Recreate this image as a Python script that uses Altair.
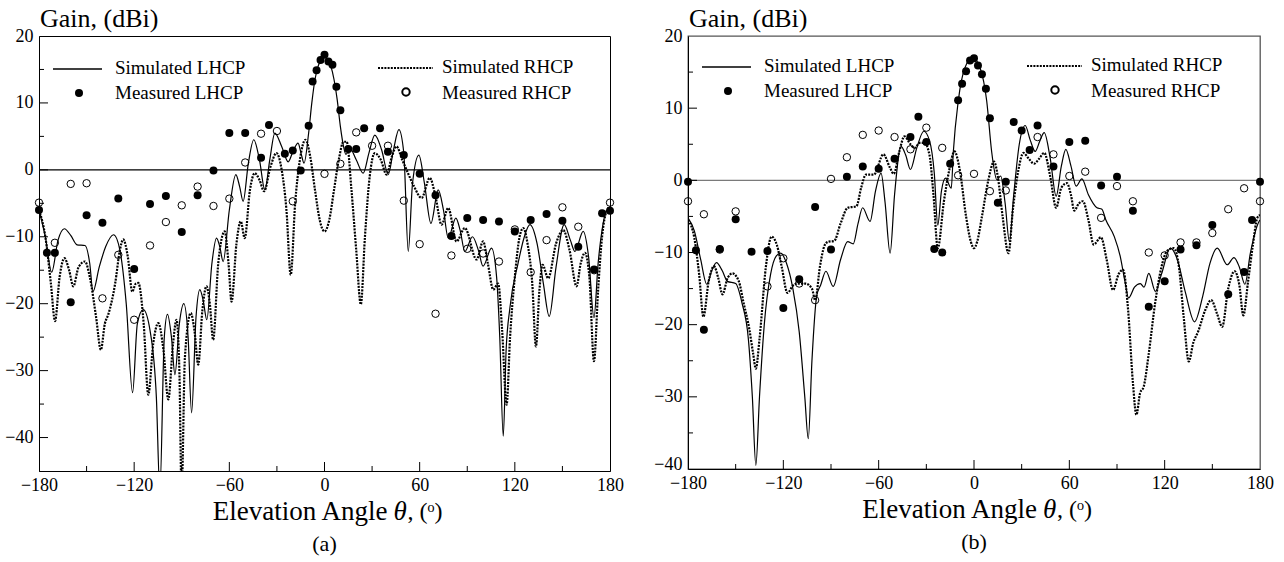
import altair as alt
import pandas as pd

FONT = "Liberation Serif"

# ---------------- Panel (a) ----------------
A_SIM_LHCP = [
    (-180, -6), (-176, -10), (-172, -15.3), (-168, -10.5), (-164, -8.8), (-160, -9.8), (-156, -11.2),
    (-151, -11.3), (-148, -14), (-146, -18.2), (-142, -14.5), (-138, -11.5), (-133, -9.7), (-129, -12),
    (-125, -20), (-121, -33.3), (-118, -23), (-114.3, -20.9), (-110, -24), (-106, -34), (-103.8, -48),
    (-101, -25), (-99, -21.6), (-96.5, -25), (-94.3, -30.6), (-91.5, -23), (-88.7, -20), (-86, -25),
    (-83.8, -36.3), (-81, -22), (-78.6, -17.9), (-76.5, -19.5), (-74.2, -22.4), (-71, -14), (-68.1, -10.2),
    (-66, -11.5), (-63.9, -13.7), (-60, -6), (-55.9, -0.7), (-53.5, -2.5), (-51.3, -4.7), (-48, 1),
    (-44.6, 4.5), (-41, 1.5), (-37.6, -3), (-34.5, 1.5), (-31.3, 5.5), (-27, 3.5), (-22.9, 1.2),
    (-19.8, 2.8), (-16.7, 4), (-14.5, 2.2), (-12.9, 1), (-10, 5.5), (-8, 10), (-6, 13.5), (-4, 15.5),
    (-2, 16.5), (0, 16.8), (2, 16.5), (4, 15.5), (6, 13.5), (8, 10.5), (10, 6.5), (12, 3.5), (13.5, 2.3),
    (16, 3.2), (20, 1.5), (24.4, -0.5), (28, 2.5), (31.7, 5.2), (36, 3), (40.2, -0.7), (43.5, 3),
    (46.9, 6), (50, 2.5), (52.8, -12.2), (55.5, -2), (59.5, 2.2), (63, -2), (67.1, -8), (71.7, -3),
    (75, -6), (78, -10.2), (82.8, -7.2), (85.5, -9), (88.5, -12.2), (93.3, -10), (97, -12), (100, -14.4),
    (105.3, -11.7), (108.5, -16), (110.5, -25), (112.7, -39.8), (114.5, -27), (116.9, -20.6), (122, -14),
    (126, -10), (129.5, -8.2), (134, -11), (138, -17), (141.7, -21.9), (146, -14.5), (151.1, -8.2),
    (155, -10.5), (157.9, -12.2), (163.1, -9.2), (166.5, -13), (169.9, -22.1), (172.5, -14), (175, -9),
    (177.8, -6.2), (180, -6),
]
A_SIM_RHCP = [
    (-180, -6), (-176, -10), (-172.5, -17), (-169.9, -22.6), (-167, -16), (-164, -13.2), (-161, -15),
    (-158.4, -17.4), (-155, -14.5), (-151, -13.7), (-148, -16), (-144, -22), (-141, -26.9), (-138.5, -23),
    (-136.3, -21.6), (-132, -17), (-129, -12), (-126.9, -10.4), (-124, -13), (-121.2, -18.2), (-119, -17),
    (-117.4, -16.9), (-114, -23), (-111.1, -33.6), (-108, -26), (-104.8, -22.9), (-101.5, -27),
    (-98.5, -34.3), (-95.5, -26), (-93.3, -22.4), (-91.5, -30), (-90.1, -48), (-88, -28), (-84.3, -21.4),
    (-82, -24), (-79.6, -29.1), (-77, -21), (-74.4, -17.4), (-72.3, -20), (-70.2, -25.4), (-67, -14),
    (-62.9, -9.2), (-60.5, -14), (-58.6, -19.7), (-55.5, -11), (-52.8, -7.7), (-50.3, -10.2), (-47, -3),
    (-44, -0.5), (-41, -1.5), (-38.1, -3.2), (-34, 0.5), (-30.3, 2.5), (-27, 0), (-24, -6), (-21.3, -15.7),
    (-18.5, -5), (-15.5, 1.5), (-12, 4.5), (-9, 2), (-6, -3), (-3, -7.5), (0, -9.2), (3, -7.5), (6, -3),
    (9, 1.5), (12, 4.2), (14, 4.2), (17, -3), (20, -12), (22.9, -20.1), (25.5, -10), (28.5, -1),
    (31.7, 2.5), (35.5, 1.5), (39.1, -0.7), (42.5, 2), (45.4, 3.5), (49, 1.5), (52.1, -0.2), (56.5, -2.5),
    (61.2, -4.2), (66.4, -1.2), (70, -4), (73.8, -8.2), (78, -5.7), (83.2, -10.7), (88.5, -8.7),
    (95.9, -13.4), (100, -10.7), (103, -14), (106.4, -17.9), (109.5, -17), (112, -24), (114.8, -35.1),
    (117, -25), (120, -16), (123, -10), (125.3, -8.7), (128, -11), (131, -17), (133.3, -26.4), (135.5, -18),
    (137.5, -14.2), (141, -16.2), (146, -11), (150.5, -9), (154.5, -12), (158.9, -17.4), (161.5, -14),
    (164.2, -12.4), (167, -16), (169.9, -28.6), (172.5, -18), (175, -10), (177.8, -6.2), (180, -5.5),
]
A_MEAS_LHCP = [
    (-180, -6), (-175, -12.4), (-170, -12.4), (-160, -19.8), (-150, -6.8), (-140, -7.9), (-130, -4.3),
    (-120, -14.8), (-110, -5.1), (-100, -3.9), (-90, -9.3), (-80, -3.8), (-70, -0.1), (-60, 5.5),
    (-50, 5.5), (-40, 1.8), (-35, 6.7), (-25, 2.4), (-20, 2.9), (-15, -0.1), (-10, 6.6), (-7.5, 13.2),
    (-5, 14.9), (-2.5, 16.4), (0, 17.2), (2.5, 16.2), (5, 15.7), (7.5, 12.4), (10, 8.9), (15, 3.1),
    (20, 3.1), (25, 6.2), (35, 6.2), (40, 2.7), (50, 2.2), (60, -0.6), (70, -3.8), (80, -9.9), (90, -7.2),
    (100, -7.5), (110, -7.7), (120, -9.2), (130, -7.5), (140, -6.6), (150, -7.6), (160, -11.5),
    (170, -14.9), (175, -6.5), (180, -6.1),
]
A_MEAS_RHCP = [
    (-180, -4.9), (-170, -10.9), (-160, -2.1), (-150, -2), (-140, -19.2), (-130, -12.7), (-120, -22.4),
    (-110, -11.3), (-100, -7.8), (-90, -5.3), (-80, -2.5), (-70, -5.4), (-60, -4.3), (-50, 1.1),
    (-40, 5.4), (-30, 5.8), (-20, -4.7), (0, -0.6), (10, 0.9), (20, 5.6), (30, 3.6), (40, 3.6),
    (50, -4.6), (60, -11.1), (70, -21.5), (80, -12.8), (90, -11.8), (100, -12.5), (110, -13.7),
    (120, -8.9), (130, -15.3), (140, -10.5), (150, -5.6), (160, -8.5), (170, -15), (180, -4.9),
]

# ---------------- Panel (b) ----------------
B_SIM_LHCP = [
    (-180, -5.2), (-176, -7), (-172, -11), (-168.2, -14.4), (-165, -12.5), (-162.1, -11.4), (-158.5, -12.5),
    (-155.2, -14), (-150, -14.3), (-146, -17), (-142, -22), (-139.5, -30), (-137.3, -39.5), (-135, -30),
    (-132, -20), (-128, -13), (-124.5, -10.5), (-121.6, -10.1), (-118, -11.5), (-114, -15), (-110, -21),
    (-106.5, -30), (-104.3, -35.8), (-102, -25), (-99, -16), (-96.5, -14.5), (-93.2, -12.6), (-88.6, -14.7),
    (-84, -11), (-79.5, -8.5), (-76, -8.8), (-73, -6), (-70.1, -3.8), (-65.4, -5.7), (-62, -1.5),
    (-58.5, 1), (-56, -3), (-52.8, -10.1), (-50, -2), (-45.9, 4.7), (-43, 3.5), (-40, 1.5), (-36, 4.5),
    (-31.6, 6.8), (-28, 5.5), (-25, 1), (-22.8, -6.2), (-20.5, -1.5), (-17.9, 0.3), (-14.3, -1.1),
    (-13, 4), (-9.9, 11), (-5.7, 15.6), (-0.8, 17), (3.8, 15.6), (8, 11), (11.1, 4), (12.2, 2.2),
    (14.3, 0.1), (16.8, 0.6), (19.5, -3), (22.3, -8.5), (25, -2), (28.5, 5), (32.2, 7.6), (35.5, 5.5),
    (38.5, 4), (41.5, 5.5), (44.2, 6.6), (48, 3), (51.7, -2.2), (55, 2), (57.8, 4.3), (61, 2),
    (64.3, -0.8), (67.9, 0.2), (72, -2), (77.4, -3.8), (80.5, -4), (83, -5.5), (88.3, -7.8), (92, -10.5),
    (95, -14), (97.3, -16.3), (101, -14.8), (104.7, -14.3), (107, -14.8), (110, -12.9), (114.2, -15.4),
    (118, -13), (123.6, -9.4), (128, -11), (133, -15.5), (138.8, -19.6), (144, -16), (148.5, -11.5),
    (153.1, -9.4), (159.4, -11.7), (163.6, -10.7), (167, -12), (170.5, -14.4), (174, -10), (179.4, -5.7),
    (180, -5.5),
]
B_SIM_RHCP = [
    (-180, -5.5), (-176, -8), (-173, -13), (-170.3, -18.9), (-167, -14), (-163.6, -11.9), (-161, -13.5),
    (-158.3, -15.8), (-155, -13.5), (-152, -12.9), (-148, -14), (-145, -17), (-141.5, -20.5), (-139, -24),
    (-137.3, -26.1), (-135, -22), (-131, -12), (-127.4, -7.8), (-124, -9), (-121, -12), (-117.4, -15.6),
    (-114, -14.6), (-111, -14.3), (-106, -14.3), (-102, -15), (-99.9, -16.6), (-97, -12), (-94, -9),
    (-91.7, -8.5), (-88, -8.4), (-84, -6), (-79.5, -3.8), (-74, -3.6), (-71, -1), (-68, 0.8), (-63, 0.8),
    (-57, 3.6), (-53, 1.8), (-50.5, 0.9), (-47, 4), (-43.8, 6.1), (-40, 5), (-37.5, 4.5), (-34, 5.2),
    (-31.2, 5.2), (-28, 3.5), (-25.5, -2), (-22.8, -9.4), (-19, -3), (-15.5, 1.5), (-12.3, 4), (-9, 1.5),
    (-5, -5), (-2, -8.5), (0, -9.4), (2, -8.5), (5, -5), (9, 0), (12.6, 2.6), (15, 0.5), (18, -5),
    (21.7, -10.1), (24.5, -4), (28, 1.5), (31.1, 3.8), (34.5, 3), (37.8, 2.3), (41, 3), (44.2, 3.8),
    (48, 0.5), (51.7, -3.8), (55, -1), (58.5, -0.4), (61, -2), (63.1, -4.2), (66, -3.2), (68.5, -2.9),
    (72, -5.5), (75.3, -8.9), (79.9, -7.9), (83.5, -11), (87.5, -15.2), (91, -13), (93.8, -12.4),
    (97, -18), (100, -28), (102.2, -32.5), (104.5, -29.5), (106.8, -28.6), (110, -24), (114, -17),
    (118, -12), (121.5, -9.8), (125.7, -9.4), (129, -12), (132, -19), (135.2, -25.1), (138, -22.5),
    (141, -21), (145.5, -18), (149.3, -16.6), (153, -18.5), (156.2, -20.3), (160, -15), (164, -12.6),
    (167, -14.5), (169.5, -18.7), (172.5, -14), (175.5, -9), (178.3, -5.2), (180, -4.8),
]
B_MEAS_LHCP = [
    (-180, -0.2), (-175, -9.7), (-170, -20.7), (-160, -9.5), (-150, -5.4), (-140, -9.9), (-130, -9.8),
    (-120, -17.7), (-110, -13.7), (-100, -3.7), (-90, -9.6), (-80, 0.5), (-70, 1.9), (-60, 1.6),
    (-50, 3), (-40, 6), (-35, 8.8), (-30, 5.3), (-25, -9.5), (-20, -10), (-15, 2.3), (-10, 11.1),
    (-7.5, 13.4), (-5, 15.1), (-2.5, 16.6), (0, 16.9), (2.5, 15.9), (5, 14.7), (7.5, 12.7), (10, 8.6),
    (15, -3.1), (20, -0.2), (25, 8.1), (30, 6.9), (35, 4.2), (40, 7.6), (50, 1.9), (60, 5.3), (70, 5.5),
    (80, -0.7), (90, 0.5), (100, -4.2), (110, -17.5), (120, -14), (130, -9.6), (140, -9), (150, -6.2),
    (160, -15.8), (170, -12.7), (175, -5.5), (180, -0.2),
]
B_MEAS_RHCP = [
    (-180, -2.9), (-170, -4.7), (-160, -9.6), (-150, -4.3), (-130, -14.7), (-120, -10.8), (-110, -14.3),
    (-100, -16.6), (-90, 0.2), (-80, 3.2), (-70, 6.3), (-60, 6.9), (-50, 6), (-40, 4.3), (-30, 7.3),
    (-20, 4.5), (-10, 0.7), (0, 0.9), (10, -1.5), (20, -1.4), (40, 6), (50, 3.6), (60, 0.6), (70, 1.2),
    (80, -5.2), (90, -0.8), (100, -2.9), (110, -10), (120, -10.4), (130, -8.6), (140, -8.6), (150, -7.3),
    (160, -4), (170, -1.1), (180, -2.9),
]

X_LABELS = [-180, -120, -60, 0, 60, 120, 180]
X_MAJOR_TICKS = [-120, -60, 0, 60, 120]
X_MINOR_TICKS = [-150, -90, -30, 30, 90, 150]


def df(pairs):
    return pd.DataFrame(pairs, columns=["angle", "gain"])


def panel(sim_l, sim_r, meas_l, meas_r, ymin, width, height, caption, zero_color, frame_color, frame_w,
          leg_dy, title_dy):
    y_labels = [v for v in range(-40, 21, 10) if v >= ymin]
    y_major = [v for v in range(-40, 20, 10) if v > ymin]
    y_minor = [v for v in range(-45, 20, 10) if v > ymin]

    y_axis_opts = dict(values=y_labels, title=None, ticks=False, tickSize=0, grid=False,
                       labelFont=FONT, labelFontSize=18, labelColor="black", labelPadding=6,
                       labelFlush=False, labelOverlap=False, domainColor="black", domainWidth=1)
    if ymin == -40:
        # lowest label sits on the axis corner: lift it slightly above the x labels
        y_axis_opts["labelBaseline"] = {"condition": {"test": "datum.value == -40", "value": "alphabetic"},
                                        "value": "middle"}

    X = alt.X("angle:Q", scale=alt.Scale(domain=[-180, 180], nice=False, zero=False),
              axis=alt.Axis(values=X_LABELS, title=None, ticks=False, tickSize=0, grid=False,
                            labelFont=FONT, labelFontSize=18, labelColor="black", labelPadding=5,
                            labelFlush=False, labelOverlap=False, domainColor="black", domainWidth=1))
    Y = alt.Y("gain:Q", scale=alt.Scale(domain=[ymin, 20], nice=False, zero=False),
              axis=alt.Axis(**y_axis_opts))

    zero = alt.Chart(pd.DataFrame({"gain": [0]})).mark_rule(color=zero_color, strokeWidth=1.3).encode(y=Y)

    line_l = alt.Chart(df(sim_l)).mark_line(color="black", strokeWidth=1.2, interpolate="monotone",
                                             clip=True).encode(x=X, y=Y)
    line_r = alt.Chart(df(sim_r)).mark_line(color="black", strokeWidth=2.2, strokeDash=[2, 1.2],
                                             interpolate="monotone", clip=True).encode(x=X, y=Y)
    pts_l = alt.Chart(df(meas_l)).mark_point(shape="circle", filled=True, color="black", size=64,
                                              opacity=1).encode(x=X, y=Y)
    pts_r = alt.Chart(df(meas_r)).mark_point(shape="circle", filled=False, color="black", size=55,
                                              strokeWidth=1, opacity=1).encode(x=X, y=Y)

    # inward ticks
    xt_major = alt.Chart(pd.DataFrame({"angle": X_MAJOR_TICKS})).mark_rule(color="black").encode(
        x=X, y=alt.value(height), y2=alt.value(height - 9))
    xt_minor = alt.Chart(pd.DataFrame({"angle": X_MINOR_TICKS})).mark_rule(color="black").encode(
        x=X, y=alt.value(height), y2=alt.value(height - 5))
    yt_major = alt.Chart(pd.DataFrame({"gain": y_major})).mark_rule(color="black").encode(
        y=Y, x=alt.value(0), x2=alt.value(9))
    yt_minor = alt.Chart(pd.DataFrame({"gain": y_minor})).mark_rule(color="black").encode(
        y=Y, x=alt.value(0), x2=alt.value(5))

    one = pd.DataFrame({"a": [0]})

    def text(t, x, y, size, align="left", style="normal"):
        return alt.Chart(one).mark_text(text=t, font=FONT, fontSize=size, align=align, baseline="middle",
                                        color="black", fontStyle=style).encode(x=alt.value(x), y=alt.value(y))

    # legend
    d = leg_dy
    leg_l_line = alt.Chart(one).mark_rule(color="black", strokeWidth=1.3).encode(
        x=alt.value(14), x2=alt.value(63), y=alt.value(33 + d))
    leg_r_line = alt.Chart(one).mark_rule(color="black", strokeWidth=2.2, strokeDash=[2, 1.2]).encode(
        x=alt.value(339), x2=alt.value(394), y=alt.value(32 + d))
    leg_l_pt = alt.Chart(one).mark_point(shape="circle", filled=True, color="black", size=64,
                                          opacity=1).encode(x=alt.value(40), y=alt.value(57 + d))
    leg_r_pt = alt.Chart(one).mark_point(shape="circle", filled=False, color="black", size=55,
                                          opacity=1).encode(x=alt.value(367), y=alt.value(56 + d))
    legend = [
        leg_l_line, leg_r_line, leg_l_pt, leg_r_pt,
        text("Simulated LHCP", 76, 32 + d, 19), text("Measured LHCP", 76, 57 + d, 19),
        text("Simulated RHCP", 403, 31 + d, 19), text("Measured RHCP", 403, 57 + d, 19),
    ]

    cx = width / 2
    ty = height + title_dy
    titles = [
        text("Gain, (dBi)", 1, -17, 26),
        text("Elevation Angle", cx + 63, ty, 27, align="right"),
        text("θ", cx + 69, ty, 27, style="italic"),
        text(", (ᵒ)", cx + 83, ty, 24),
        text(caption, cx, height + 73, 22, align="center"),
    ]

    layers = [zero, line_l, line_r, pts_l, pts_r, xt_major, xt_minor, yt_major, yt_minor] + legend + titles
    return alt.layer(*layers).properties(
        width=width, height=height,
        view=alt.ViewBackground(stroke=frame_color, strokeWidth=frame_w),
    )


panel_a = panel(A_SIM_LHCP, A_SIM_RHCP, A_MEAS_LHCP, A_MEAS_RHCP, -45, 571, 435, "(a)", "black", "black", 1,
                0, 41)
panel_b = panel(B_SIM_LHCP, B_SIM_RHCP, B_MEAS_LHCP, B_MEAS_RHCP, -40, 572, 433, "(b)", "#7a7a7a", "#555555",
                1.3, -2, 41)

chart = alt.hconcat(panel_a, panel_b, spacing=78).properties(
    bounds="flush",
    padding={"left": 4, "top": 5, "right": 5, "bottom": 5},
    background="white",
)

chart.save("out.html", embed_options={"renderer": "svg", "actions": False})
